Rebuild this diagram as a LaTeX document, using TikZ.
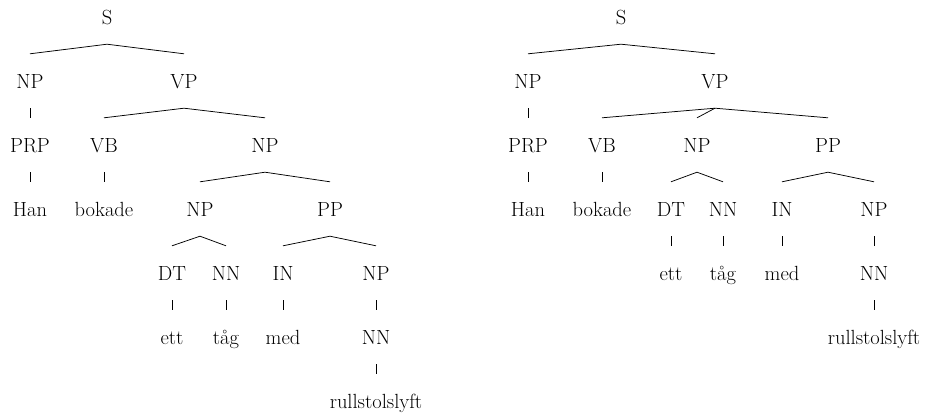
\documentclass[tikz,border=0pt]{standalone}
\usepackage{fontspec}
\usepackage{tikz}

\begin{document}
\begin{tikzpicture}[
  x=1pt, y=-1pt,
  font=\fontsize{20.5}{24}\selectfont,
  cat/.style={inner sep=0pt, minimum height=54pt,
              text height=14pt, text depth=0pt},
  branch/.style={line width=0.75pt}
]
\useasboundingbox (0,0) rectangle (929,413);

% Left tree: PP attached inside the object NP
\node[cat] (ls) at (107,17) {S};
\node[cat] (lnp) at (30,81) {NP};
\node[cat] (lvp) at (184,81) {VP};
\node[cat] (lprp) at (30,145) {PRP};
\node[cat] (lvb) at (104,145) {VB};
\node[cat] (lnp2) at (265,145) {NP};
\node[cat] (lhan) at (30,209) {Han};
\node[cat] (lbok) at (104,209) {bokade};
\node[cat] (lnp3) at (200,209) {NP};
\node[cat] (lpp) at (330,209) {PP};
\node[cat] (ldt) at (172,273) {DT};
\node[cat] (lnn) at (226,273) {NN};
\node[cat] (lin) at (283,273) {IN};
\node[cat] (lnp4) at (376,273) {NP};
\node[cat] (lett) at (172,337) {ett};
\node[cat] (ltag) at (226,337) {tåg};
\node[cat] (lmed) at (283,337) {med};
\node[cat] (lnn2) at (376,337) {NN};
\node[cat] (lrull) at (376,401) {rullstolslyft};

\draw[branch] (lnp.north) -- (ls.south) -- (lvp.north);
\draw[branch] (lnp.south) -- (lprp.north);
\draw[branch] (lprp.south) -- (lhan.north);
\draw[branch] (lvb.north) -- (lvp.south) -- (lnp2.north);
\draw[branch] (lvb.south) -- (lbok.north);
\draw[branch] (lnp3.north) -- (lnp2.south) -- (lpp.north);
\draw[branch] (ldt.north) -- (lnp3.south) -- (lnn.north);
\draw[branch] (lin.north) -- (lpp.south) -- (lnp4.north);
\draw[branch] (ldt.south) -- (lett.north);
\draw[branch] (lnn.south) -- (ltag.north);
\draw[branch] (lin.south) -- (lmed.north);
\draw[branch] (lnp4.south) -- (lnn2.north);
\draw[branch] (lnn2.south) -- (lrull.north);

% Right tree: PP attached to the VP
\node[cat] (rs) at (621,17) {S};
\node[cat] (rnp) at (528,81) {NP};
\node[cat] (rvp) at (715,81) {VP};
\node[cat] (rprp) at (528,145) {PRP};
\node[cat] (rvb) at (602,145) {VB};
\node[cat] (rnp2) at (697,145) {NP};
\node[cat] (rpp) at (828,145) {PP};
\node[cat] (rhan) at (528,209) {Han};
\node[cat] (rbok) at (602,209) {bokade};
\node[cat] (rdt) at (671,209) {DT};
\node[cat] (rnn) at (723,209) {NN};
\node[cat] (rin) at (782,209) {IN};
\node[cat] (rnp3) at (874,209) {NP};
\node[cat] (rett) at (671,273) {ett};
\node[cat] (rtag) at (723,273) {tåg};
\node[cat] (rmed) at (782,273) {med};
\node[cat] (rnn2) at (874,273) {NN};
\node[cat] (rrull) at (874,337) {rullstolslyft};

\draw[branch] (rnp.north) -- (rs.south) -- (rvp.north);
\draw[branch] (rnp.south) -- (rprp.north);
\draw[branch] (rprp.south) -- (rhan.north);
\draw[branch] (rvb.north) -- (rvp.south) -- (rpp.north);
\draw[branch] (rvp.south) -- (rnp2.north);
\draw[branch] (rvb.south) -- (rbok.north);
\draw[branch] (rdt.north) -- (rnp2.south) -- (rnn.north);
\draw[branch] (rin.north) -- (rpp.south) -- (rnp3.north);
\draw[branch] (rdt.south) -- (rett.north);
\draw[branch] (rnn.south) -- (rtag.north);
\draw[branch] (rin.south) -- (rmed.north);
\draw[branch] (rnp3.south) -- (rnn2.north);
\draw[branch] (rnn2.south) -- (rrull.north);
\end{tikzpicture}
\end{document}
